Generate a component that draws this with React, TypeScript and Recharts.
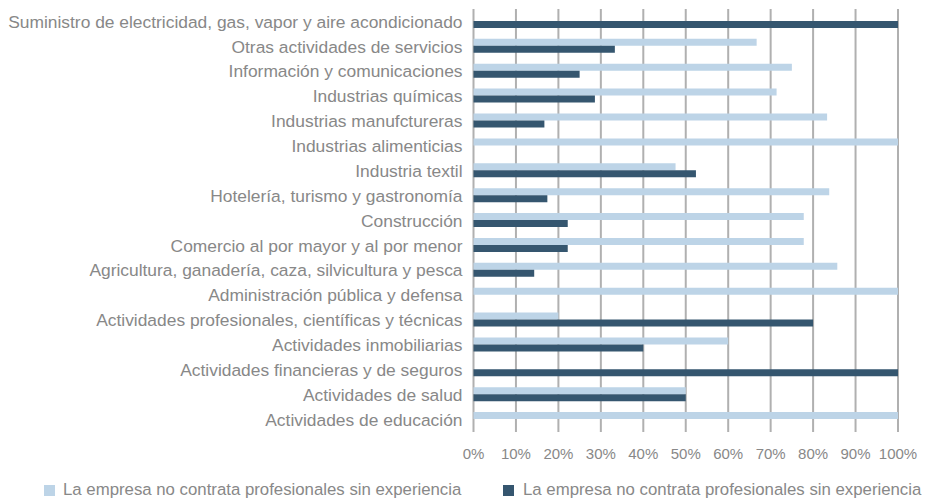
import React from 'react';
import { BarChart, Bar, XAxis, YAxis, CartesianGrid, Legend } from 'recharts';

const categories = [
    'Suministro de electricidad, gas, vapor y aire acondicionado',
    'Otras actividades de servicios',
    'Información y comunicaciones',
    'Industrias químicas',
    'Industrias manufctureras',
    'Industrias alimenticias',
    'Industria textil',
    'Hotelería, turismo y gastronomía',
    'Construcción',
    'Comercio al por mayor y al por menor',
    'Agricultura, ganadería, caza, silvicultura y pesca',
    'Administración pública y defensa',
    'Actividades profesionales, científicas y técnicas',
    'Actividades inmobiliarias',
    'Actividades financieras y de seguros',
    'Actividades de salud',
    'Actividades de educación',
];

const lightValues = [0, 66.7, 75, 71.4, 83.3, 100, 47.6, 83.8, 77.8, 77.8, 85.7, 100, 20, 60, 0, 50, 100];
const darkValues = [100, 33.3, 25, 28.6, 16.7, 0, 52.4, 17.4, 22.2, 22.2, 14.3, 0, 80, 40, 100, 50, 0];

const xTicks = [0, 10, 20, 30, 40, 50, 60, 70, 80, 90, 100];

const lightName = 'La empresa no contrata profesionales sin experiencia';
const darkName = 'La empresa no contrata profesionales sin experiencia';

const LIGHT = '#bdd4e7';
const DARK = '#35566f';
const TEXT = '#888888';
const FONT = '"Liberation Sans", Arial, sans-serif';

const data = categories.map((name, i) => ({ name, light: lightValues[i], dark: darkValues[i] }));

const LegendContent = () => (
    <div style={{ position: 'relative', height: 30, fontFamily: FONT, fontSize: 16.8, color: TEXT }}>
        <div style={{ position: 'absolute', left: 44, top: 12, display: 'flex', alignItems: 'center', whiteSpace: 'nowrap' }}>
            <span style={{ width: 11, height: 11, background: LIGHT, display: 'inline-block', marginRight: 8 }} />
            {lightName}
        </div>
        <div style={{ position: 'absolute', left: 503, top: 12, display: 'flex', alignItems: 'center', whiteSpace: 'nowrap' }}>
            <span style={{ width: 11, height: 11, background: DARK, display: 'inline-block', marginRight: 9 }} />
            {darkName}
        </div>
    </div>
);

export default function App() {
    return (
        <div style={{ position: 'absolute', left: 0, top: 0, width: 927, height: 498, background: '#fff' }}>
            <BarChart
                width={927}
                height={498}
                data={data}
                layout="vertical"
                margin={{ top: 9, right: 29, left: 0, bottom: 0 }}
                barCategoryGap="20%"
                barGap={0}
            >
                <CartesianGrid horizontal={false} stroke="#b0b0b0" strokeWidth={2} />
                <XAxis
                    type="number"
                    domain={[0, 100]}
                    ticks={xTicks}
                    tickFormatter={(v) => `${v}%`}
                    axisLine={false}
                    tickLine={false}
                    height={36}
                    tickMargin={10}
                    tick={{ fill: TEXT, fontSize: 15, fontFamily: FONT }}
                />
                <YAxis
                    type="category"
                    dataKey="name"
                    width={473.5}
                    axisLine={false}
                    tickLine={false}
                    tickMargin={5}
                    interval={0}
                    tick={{ fill: TEXT, fontSize: 17.4, fontFamily: FONT }}
                />
                <Legend verticalAlign="bottom" content={<LegendContent />} />
                <Bar dataKey="light" name={lightName} fill={LIGHT} isAnimationActive={false} />
                <Bar dataKey="dark" name={darkName} fill={DARK} isAnimationActive={false} />
            </BarChart>
        </div>
    );
}
